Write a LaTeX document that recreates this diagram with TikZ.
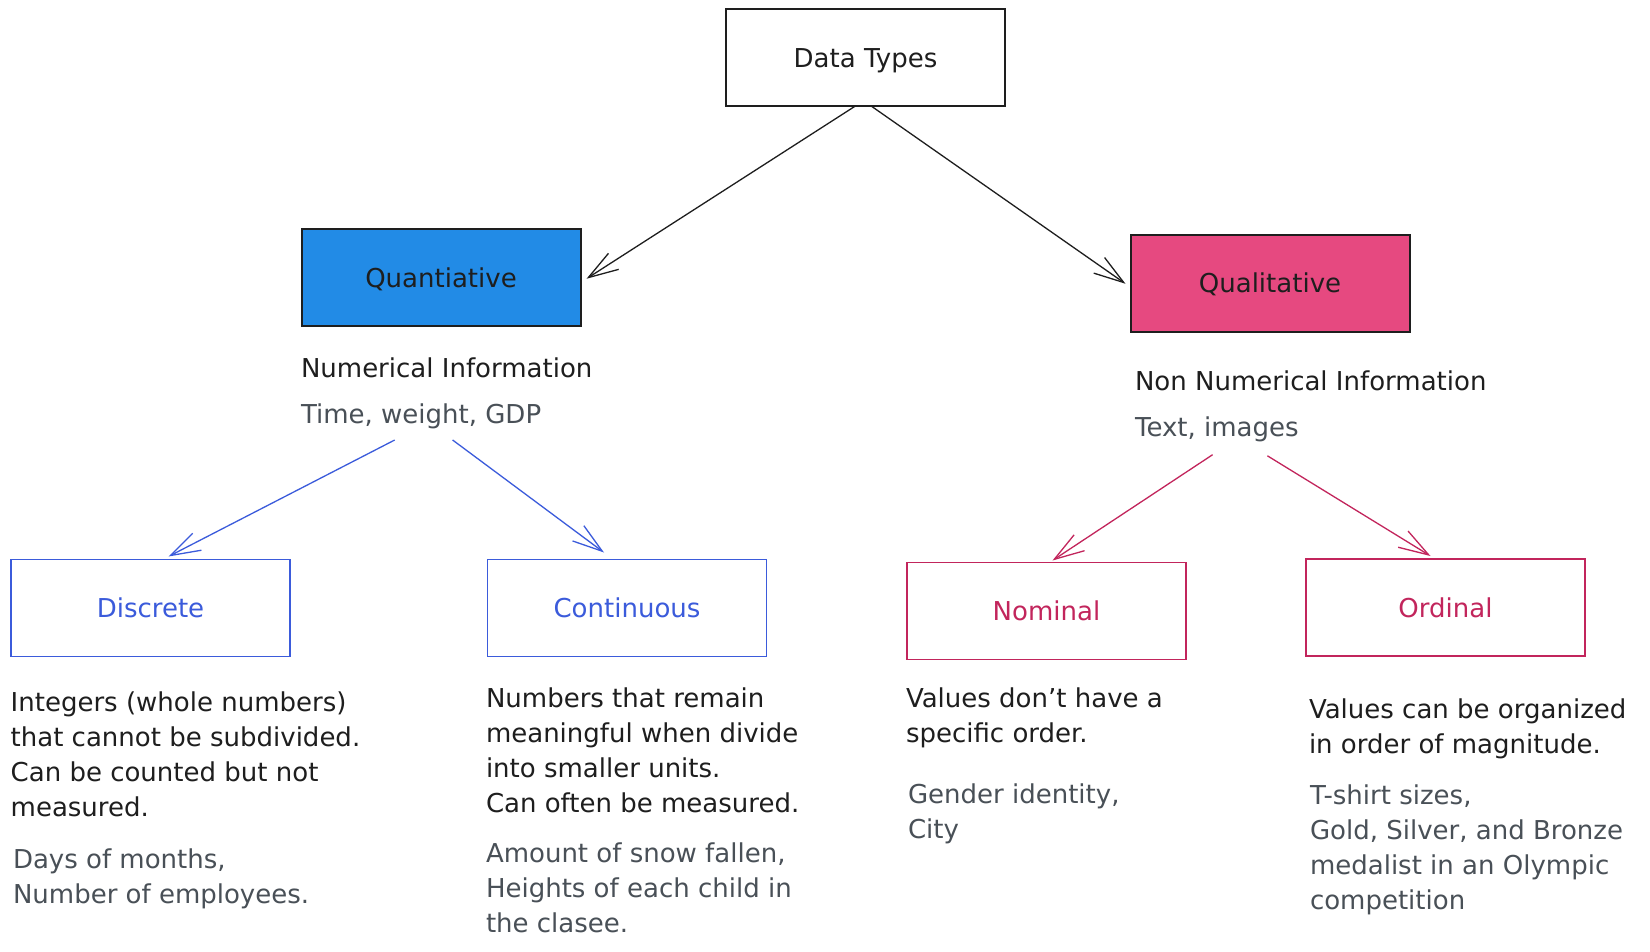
\documentclass[tikz,border=0pt]{standalone}
\usepackage{fontspec}
\setmainfont{DejaVu Sans}
\usetikzlibrary{arrows.meta}
\definecolor{ink}{HTML}{1E1E1E}
\definecolor{grayink}{HTML}{495057}
\definecolor{blueink}{HTML}{3B5BDB}
\definecolor{pinkink}{HTML}{C2255C}
\definecolor{bluefill}{HTML}{228BE6}
\definecolor{pinkfill}{HTML}{E64980}
\newcommand\txtsize{\fontsize{26pt}{35pt}\selectfont}
\begin{document}
\begin{tikzpicture}[x=1pt,y=-1pt,
  box/.style={draw=ink, line width=2pt, minimum width=279pt, minimum height=97pt,
    inner sep=0pt, outer sep=0pt, font=\txtsize, text=ink, text height=19pt, text depth=0pt},
  bluebox/.style={box, draw=blueink, text=blueink, line width=1.6pt},
  pinkbox/.style={box, draw=pinkink, text=pinkink, line width=1.6pt},
  desc/.style={anchor=north west, inner sep=0pt, outer sep=0pt, align=left,
    font=\txtsize, text=ink, execute at begin node=\strut},
  example/.style={desc, text=grayink},
  arr/.style={line width=1.3pt, -{Straight Barb[length=30pt, width=19pt, line width=1.3pt]}},
  blackarr/.style={arr, draw=ink},
  bluearr/.style={arr, draw=blueink},
  pinkarr/.style={arr, draw=pinkink}]
\useasboundingbox (0,0) rectangle (1650,952);
\fill[white] (0,0) rectangle (1650,952);

% boxes
\node[box] (dt) at (865.5,57.75) {Data Types};
\node[box, fill=bluefill] (quan) at (441,277.75) {Quantiative};
\node[box, fill=pinkfill] (qual) at (1270,283.25) {Qualitative};
\node[bluebox] (disc) at (150.5,608) {Discrete};
\node[bluebox] (cont) at (627,608) {Continuous};
\node[pinkbox] (nom) at (1046.5,611) {Nominal};
\node[pinkbox] (ord) at (1445.5,607.5) {Ordinal};

% texts (y = first baseline - 24.5)
\node[desc] (numinfo) at (301,352.5) {Numerical Information};
\node[example] (numex) at (301,398.5) {Time, weight, GDP};
\node[desc] (noninfo) at (1135,365.5) {Non Numerical Information};
\node[example] (nonex) at (1135,411.5) {Text, images};

\node[desc] (discdesc) at (10.7,691.8) {Integers (whole numbers)\\that cannot be subdivided.\\Can be counted but not\\measured.};
\node[example] (discex) at (13,848.5) {Days of months,\\Number of employees.};

\node[desc] (contdesc) at (486,688.2) {Numbers that remain\\meaningful when divide\\into smaller units.\\Can often be measured.};
\node[example] (contex) at (486,843) {Amount of snow fallen,\\Heights of each child in\\the clasee.};

\node[desc] (nomdesc) at (906,687.5) {Values don't have a\\specific order.};
\node[example] (nomex) at (908,784) {Gender identity,\\City};

\node[desc] (orddesc) at (1309,699) {Values can be organized\\in order of magnitude.};
\node[example] (ordex) at (1310,784.5) {T-shirt sizes,\\Gold, Silver, and Bronze\\medalist in an Olympic\\competition};

% arrow start points
\coordinate (b1) at (394.7,440);
\coordinate (b2) at (452.6,440);
\coordinate (p1) at (1212.6,454.7);
\coordinate (p2) at (1267.4,455.8);

% arrows
\draw[blackarr] ([xshift=-10.5pt]dt.south) -- ([xshift=6pt,yshift=-1pt]quan.east);
\draw[blackarr] ([xshift=6pt]dt.south) -- ([xshift=-5pt,yshift=-0.5pt]qual.west);
\draw[bluearr] (b1) -- ([xshift=18pt,yshift=3pt]disc.north);
\draw[bluearr] (b2) -- ([xshift=-23pt,yshift=7pt]cont.north);
\draw[pinkarr] (p1) -- ([xshift=6pt,yshift=2pt]nom.north);
\draw[pinkarr] (p2) -- ([xshift=-15pt,yshift=3pt]ord.north);
\end{tikzpicture}
\end{document}
